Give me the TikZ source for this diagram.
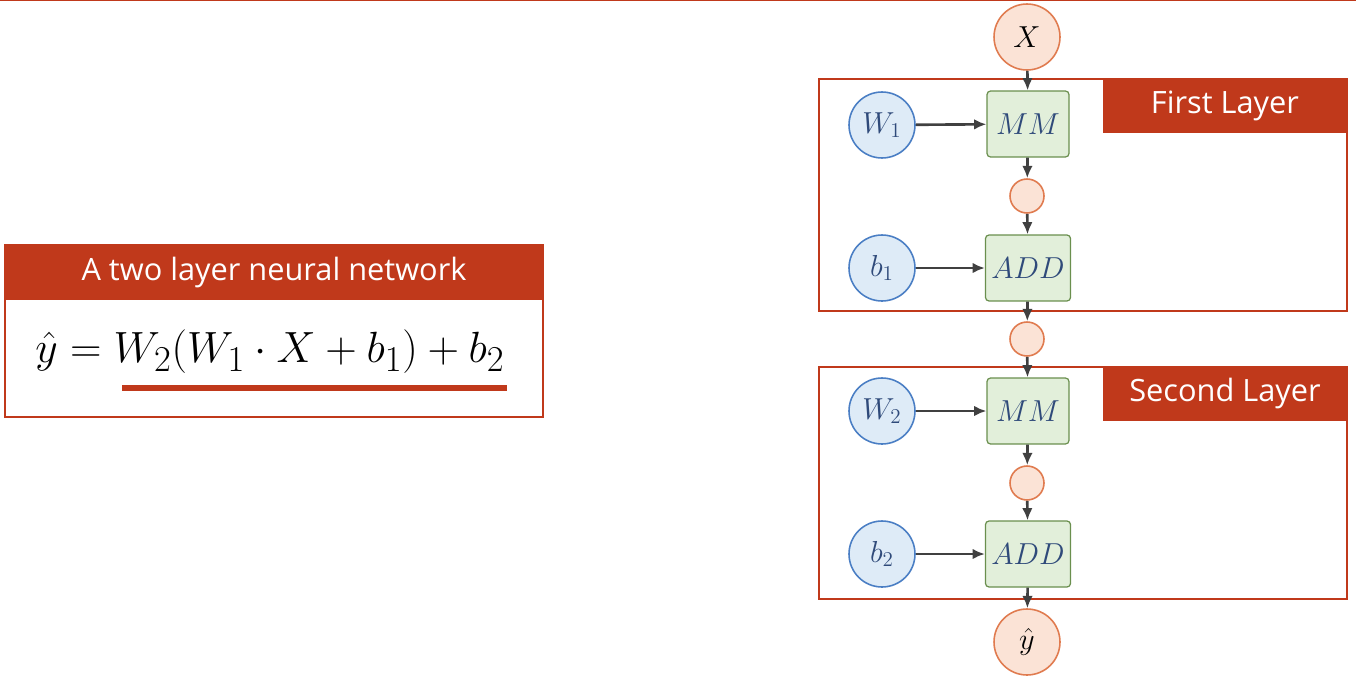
\documentclass[tikz,border=0pt]{standalone}
\usepackage{fontspec}
\newfontfamily\hdfont{Open Sans}
\usetikzlibrary{arrows.meta}
\definecolor{redhd}{HTML}{C0391B}
\definecolor{orfill}{HTML}{FBE3D6}
\definecolor{ordraw}{HTML}{E07B4F}
\definecolor{blfill}{HTML}{DEEBF7}
\definecolor{bldraw}{HTML}{4A7EC4}
\definecolor{grfill}{HTML}{E2EFDA}
\definecolor{grdraw}{HTML}{6A8F4E}
\definecolor{txtblue}{HTML}{2F4A7A}
\tikzset{
  var/.style={circle,draw=ordraw,fill=orfill,line width=0.9pt,minimum size=1.32cm,inner sep=0pt,font=\LARGE},
  mid/.style={circle,draw=ordraw,fill=orfill,line width=0.9pt,minimum size=0.68cm,inner sep=0pt},
  param/.style={circle,draw=bldraw,fill=blfill,line width=0.9pt,minimum size=1.32cm,inner sep=0pt,text=txtblue,font=\LARGE},
  op/.style={rectangle,rounded corners=2pt,draw=grdraw,fill=grfill,line width=0.7pt,minimum width=1.64cm,minimum height=1.32cm,text=txtblue,font=\LARGE},
  frame/.style={draw=redhd,line width=1.5pt},
  head/.style={fill=redhd,text=white,font=\hdfont\fontsize{17.5}{21}\selectfont,inner sep=0pt},
  link/.style={-{Latex[length=7pt,width=6pt]},draw=black!75,line width=1.5pt}
}
\begin{document}
\begin{tikzpicture}[x=0.02cm,y=-0.02cm]
\useasboundingbox (0,0) rectangle (1356,676);
\draw[redhd,line width=1pt] (0,0.5) -- (1356,0.5);

% formula box
\draw[frame,line width=1.2pt] (5,245) rectangle (543,417);
\fill[redhd] (5,245) rectangle (543,300);
\node[head] (title) at (274,273) {A two layer neural network};
\node (formula) at (270,352) {\fontsize{28}{31}\selectfont $\hat{y} = W_2(W_1\cdot X + b_1) + b_2$};
\draw[redhd,line width=3.5pt] (122,388) -- (507,388);

% layer frames
\draw[frame] (819,79) rectangle (1347,311);
\fill[redhd] (1103,79) rectangle (1347,133);
\node[head] (first) at (1225,106) {First Layer};
\draw[frame] (819,367) rectangle (1347,599);
\fill[redhd] (1103,367) rectangle (1347,421);
\node[head] (second) at (1225,394) {Second Layer};

% graph
\node[var] (x) at (1027,37) {$X$};
\node[param] (w1) at (882,125) {$W_1$};
\node[op] (mm1) at (1028,124) {$MM$};
\node[mid] (h1) at (1027,196) {};
\node[param] (b1) at (882,268) {$b_1$};
\node[op] (add1) at (1028,268) {$ADD$};
\node[mid] (h2) at (1027,339) {};
\node[param] (w2) at (882,411) {$W_2$};
\node[op] (mm2) at (1028,411) {$MM$};
\node[mid] (h3) at (1027,483) {};
\node[param] (b2) at (882,554) {$b_2$};
\node[op] (add2) at (1028,554) {$ADD$};
\node[var] (y) at (1027,642) {$\hat{y}$};

\draw[link] (x) -- (mm1);
\draw[link] (w1) -- (mm1);
\draw[link] (mm1) -- (h1);
\draw[link] (h1) -- (add1);
\draw[link] (b1) -- (add1);
\draw[link] (add1) -- (h2);
\draw[link] (h2) -- (mm2);
\draw[link] (w2) -- (mm2);
\draw[link] (mm2) -- (h3);
\draw[link] (h3) -- (add2);
\draw[link] (b2) -- (add2);
\draw[link] (add2) -- (y);
\end{tikzpicture}
\end{document}
